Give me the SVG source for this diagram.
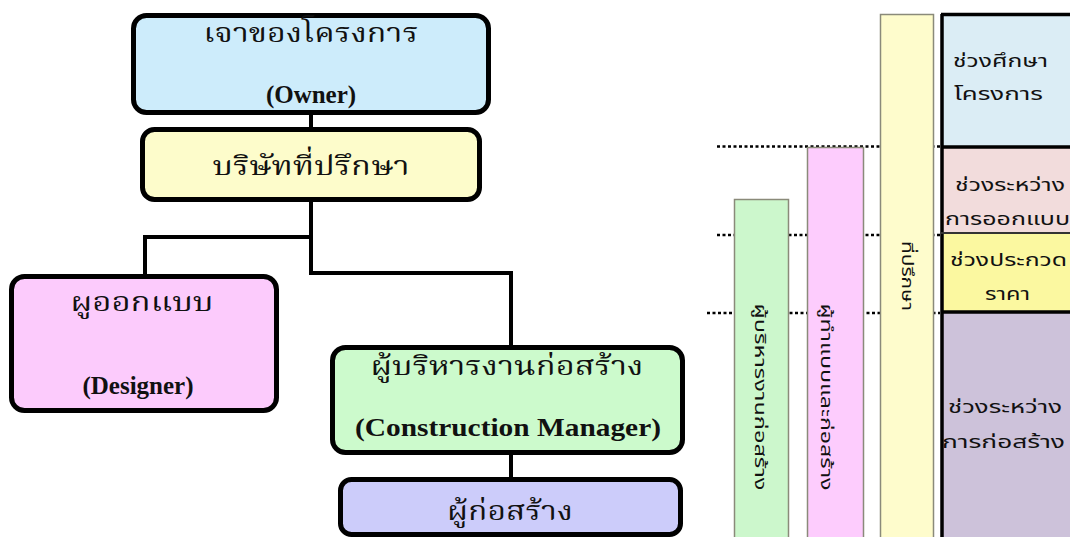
<svg xmlns="http://www.w3.org/2000/svg" width="1070" height="537" viewBox="0 0 1070 537">
<style>
.box{stroke:#000;stroke-width:5}
.conn{fill:none;stroke:#000;stroke-width:4}
.dot{fill:none;stroke:#000;stroke-width:2.5;stroke-dasharray:3 2.5}
.th{font-family:"Noto Serif Thai","Noto Sans Thai","Norasi","Loma","DejaVu Sans",sans-serif;font-size:27px;fill:#111;text-anchor:middle}
.en{font-family:"Liberation Serif",serif;font-weight:bold;font-size:25px;fill:#111;text-anchor:middle}
.tb{font-family:"Noto Sans Thai","Loma","Tahoma","DejaVu Sans",sans-serif;font-size:17px;fill:#111}
.vt{font-family:"Noto Sans Thai","Loma","Tahoma","DejaVu Sans",sans-serif;font-size:16px;fill:#111;text-anchor:middle;dominant-baseline:central}
.col{stroke:#8a8a7a;stroke-width:1.5}
</style>
<rect width="1070" height="537" fill="#fff"/>
<g id="connectors">
<path class="conn" d="M311,113 V128"/>
<path class="conn" d="M311,200 V273 H511 V346"/>
<path class="conn" d="M311,237 H145 V275"/>
<path class="conn" d="M511,453 V478"/>
</g>
<g id="owner">
<rect class="box" x="133.5" y="15.5" width="355" height="97" rx="13" fill="#cdecfb"/>
<text class="th" x="311" y="42" textLength="215" lengthAdjust="spacingAndGlyphs">เจาของโครงการ</text>
<text class="en" x="311" y="103">(Owner)</text>
</g>
<g id="consultant">
<rect class="box" x="142.5" y="129.5" width="337" height="70" rx="12" fill="#fdfccb"/>
<text class="th" x="311" y="175" textLength="197" lengthAdjust="spacingAndGlyphs">บริษัทที่ปรึกษา</text>
</g>
<g id="designer">
<rect class="box" x="11.5" y="276.5" width="265" height="134" rx="13" fill="#fccbfc"/>
<text class="th" x="142" y="311" textLength="143" lengthAdjust="spacingAndGlyphs">ผูออกแบบ</text>
<text class="en" x="138" y="394">(Designer)</text>
</g>
<g id="manager">
<rect class="box" x="332.5" y="347.5" width="350" height="105" rx="13" fill="#ccfacc"/>
<text class="th" x="507" y="375" textLength="273" lengthAdjust="spacingAndGlyphs">ผู้บริหารงานก่อสร้าง</text>
<text class="en" x="508" y="436" textLength="306" lengthAdjust="spacingAndGlyphs">(Construction Manager)</text>
</g>
<g id="contractor">
<rect class="box" x="340.5" y="479.5" width="340" height="55" rx="11" fill="#ccccfa"/>
<text class="th" x="510" y="520" textLength="126" lengthAdjust="spacingAndGlyphs">ผู้ก่อสร้าง</text>
</g>
<g id="guides">
<path class="dot" d="M717,146.5 H940"/>
<path class="dot" d="M717,235 H940"/>
<path class="dot" d="M707,313 H940"/>
</g>
<g id="col-manager">
<rect class="col" x="734.5" y="199.5" width="54" height="340" fill="#ccf7cc"/>
<text class="vt" transform="translate(760,397) rotate(90)" textLength="187" lengthAdjust="spacingAndGlyphs">ผู้บริหารงานก่อสร้าง</text>
</g>
<g id="col-designbuild">
<rect class="col" x="807.5" y="147.5" width="56" height="392" fill="#fdccfd"/>
<text class="vt" transform="translate(826,397) rotate(90)" textLength="187" lengthAdjust="spacingAndGlyphs">ผู้ทำแบบและก่อสร้าง</text>
</g>
<g id="col-consultant">
<rect class="col" x="880.5" y="14.5" width="53" height="525" fill="#fefccc"/>
<text class="vt" transform="translate(907,276) rotate(90)" textLength="70" lengthAdjust="spacingAndGlyphs">ที่ปรึกษา</text>
</g>
<g id="phases">
<rect x="941" y="14" width="140" height="133" fill="#dbedf5"/>
<rect x="941" y="147" width="140" height="86" fill="#f2dcdc"/>
<rect x="941" y="233" width="140" height="79" fill="#fbf8a0"/>
<rect x="941" y="312" width="140" height="230" fill="#cdc2da"/>
<path d="M942,14 V540 M941,14.5 H1070 M941,147 H1070 M941,312 H1070" fill="none" stroke="#000" stroke-width="3.5"/>
<path d="M941,233 H1070" stroke="#333" stroke-width="2"/>
<text class="tb" x="953" y="67" textLength="95" lengthAdjust="spacingAndGlyphs">ช่วงศึกษา</text>
<text class="tb" x="954" y="100" textLength="89" lengthAdjust="spacingAndGlyphs">โครงการ</text>
<text class="tb" x="955" y="191" textLength="110" lengthAdjust="spacingAndGlyphs">ช่วงระหว่าง</text>
<text class="tb" x="945" y="225" textLength="125" lengthAdjust="spacingAndGlyphs">การออกแบบ</text>
<text class="tb" x="950" y="266" textLength="117" lengthAdjust="spacingAndGlyphs">ช่วงประกวด</text>
<text class="tb" x="985" y="300" textLength="45" lengthAdjust="spacingAndGlyphs">ราคา</text>
<text class="tb" x="948" y="413" textLength="114" lengthAdjust="spacingAndGlyphs">ช่วงระหว่าง</text>
<text class="tb" x="942" y="448" textLength="123" lengthAdjust="spacingAndGlyphs">การก่อสร้าง</text>
</g>
</svg>
